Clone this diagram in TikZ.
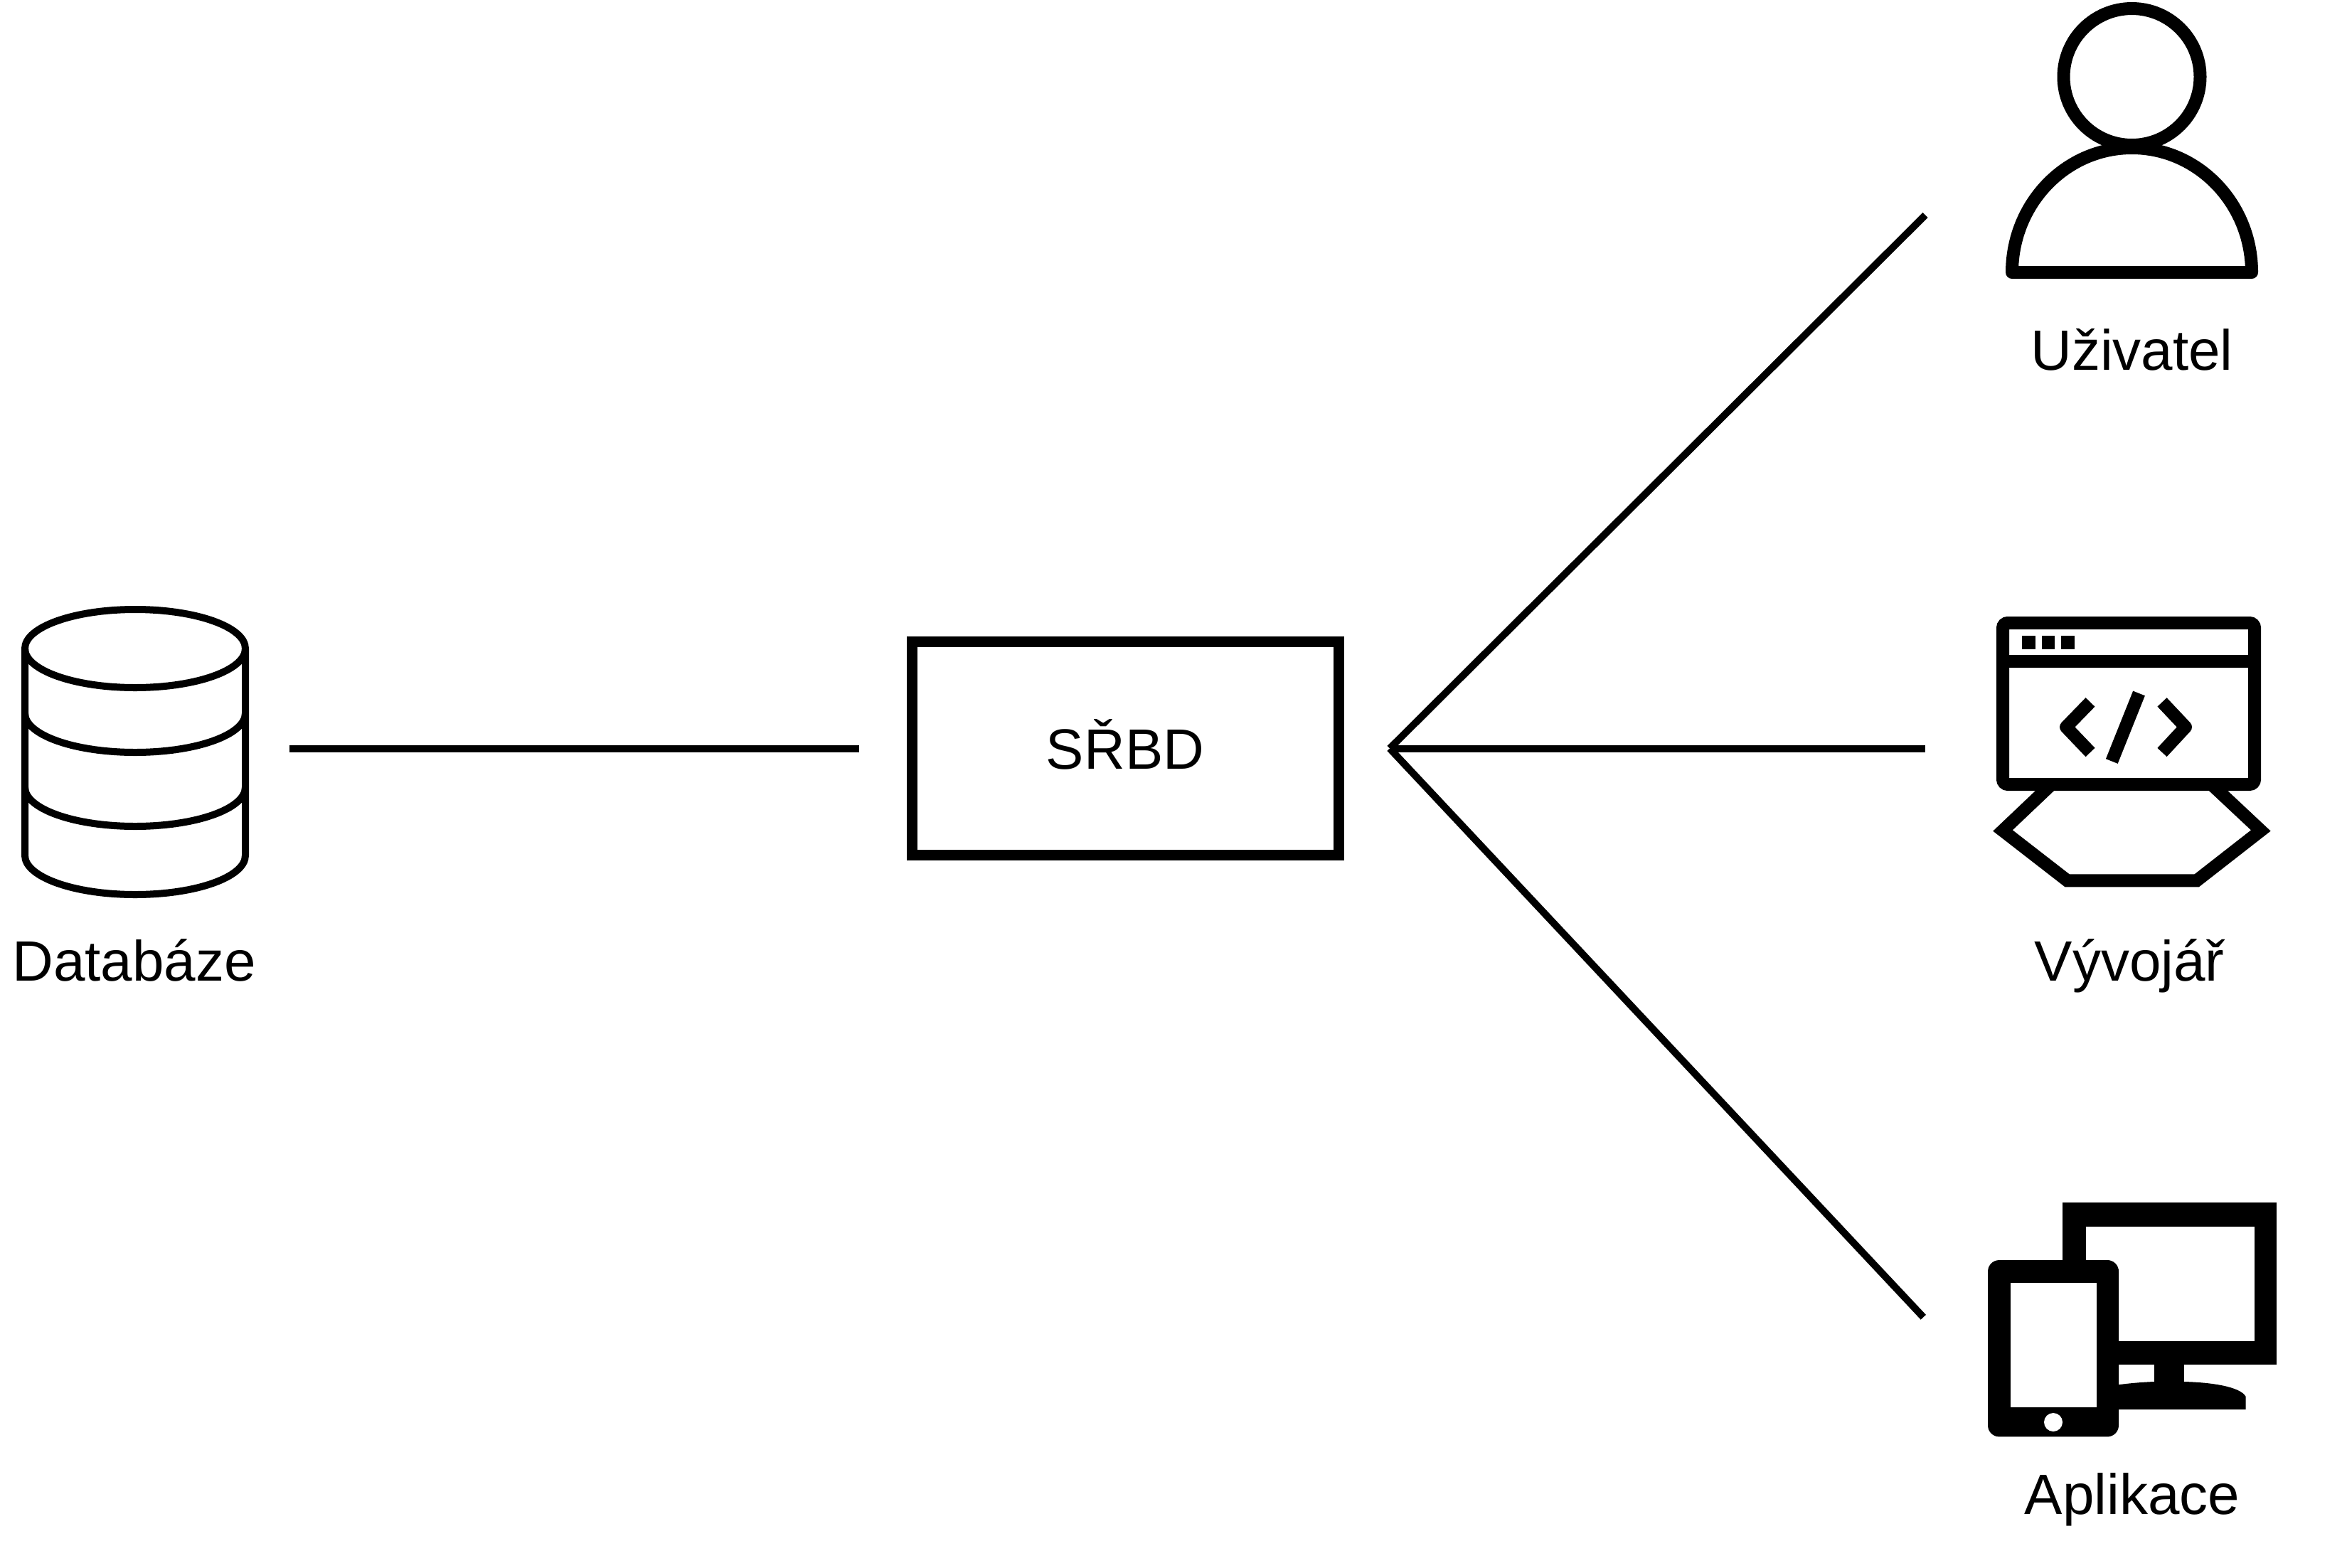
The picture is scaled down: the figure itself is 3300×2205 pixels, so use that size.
\documentclass[tikz,border=0pt]{standalone}
\usepackage{fontspec}
\setmainfont{Liberation Sans}
\begin{document}
\begin{tikzpicture}[
    x=0.2mm, y=-0.2mm,
    link/.style={draw, line width=2mm},
    caption/.style={font=\fontsize{45.5}{54}\selectfont, anchor=base, inner sep=0pt},
    dbms/.style={rectangle, fill=white, inner sep=0pt, font=\fontsize{45.5}{54}\selectfont,
        minimum width=117mm, minimum height=57mm, text height=11.6mm, text depth=0pt},
    dbstroke/.style={draw, line width=2mm},
    icon/.style={draw, line width=3.6mm},
    solid icon/.style={fill=black, even odd rule}
]
\useasboundingbox (0,0) rectangle (3300,2205);

% database
\draw[dbstroke] (35,912) -- (35,1203) arc[start angle=180, end angle=0, x radius=155, y radius=55] -- (345,912);
\draw[dbstroke] (190,912) ellipse [x radius=155, y radius=55];
\draw[dbstroke] (35,1003) arc[start angle=180, end angle=0, x radius=155, y radius=55];
\draw[dbstroke] (35,1107) arc[start angle=180, end angle=0, x radius=155, y radius=55];
\node (Database) [caption] at (188.5,1379) {Databáze};

% dbms box
\node (SrbdFrame) [rectangle, fill=black, minimum width=123mm, minimum height=63mm, inner sep=0pt] at (1582,1052.4) {};
\node (Srbd) [dbms] at (1582,1052.4) {SŘBD};

% user
\draw[icon] (2997.5,108) circle [radius=96];
\draw[icon, line join=round] (2829,383) arc[start angle=180, end angle=360, x radius=168.5, y radius=175] -- cycle;
\node (User) [caption] at (2997.5,520) {Uživatel};

% developer
\draw[icon, miter limit=10] (2883.4,1104) -- (2816,1168) -- (2906.7,1238.4) -- (3088.6,1238.4) -- (3178.8,1168) -- (3110.5,1104);
\draw[icon, rounded corners=1.4mm] (2816,876) rectangle (3170,1103);
\draw[icon] (2816,930) -- (3170,930);
\foreach \dotx in {2843,2870.5,2898} {
    \fill (\dotx,894) rectangle ++(18.5,18.5);
}
\draw[icon, line join=round] (2939,987.4) -- (2905,1022.4) -- (2939,1058);
\draw[icon, line join=round] (3040,987.4) -- (3073,1022.4) -- (3040,1058);
\draw[icon] (3007.5,975) -- (2969.3,1070.5);
\node (Developer) [caption] at (2994,1379.4) {Vývojář};

% application
\draw[solid icon] (2900.5,1691) rectangle (3200,1918) (2932,1724) rectangle (3170,1886.3);
\fill (3028.6,1918) rectangle (3071,1950);
\fill (2960,1982) -- (2960,1950) .. controls (2985,1946) and (3005,1944) .. (3028.6,1943) -- (3071,1943)
    .. controls (3110,1944) and (3150,1950) .. (3157.7,1964) -- (3157.7,1982) -- cycle;
\fill[rounded corners=3.2mm] (2795,1772) rectangle (2979,2020.4);
\fill[white] (2826.5,1804) rectangle (2947.5,1979);
\fill[white] (2887,2000) circle [radius=13];
\node (Application) [caption] at (2998,2129) {Aplikace};

% connectors
\coordinate (DatabaseEnd) at (407,1052.5);
\coordinate (SrbdEnd) at (1207.7,1052.5);
\coordinate (Hub) at (1954,1052.5);
\coordinate (UserEnd) at (2707,302.5);
\coordinate (DeveloperEnd) at (2707.3,1052.5);
\coordinate (ApplicationEnd) at (2704.3,1852.3);
\draw[link] (DatabaseEnd) -- (SrbdEnd);
\draw[link] (Hub) -- (UserEnd);
\draw[link] (Hub) -- (DeveloperEnd);
\draw[link] (Hub) -- (ApplicationEnd);

\end{tikzpicture}
\end{document}
